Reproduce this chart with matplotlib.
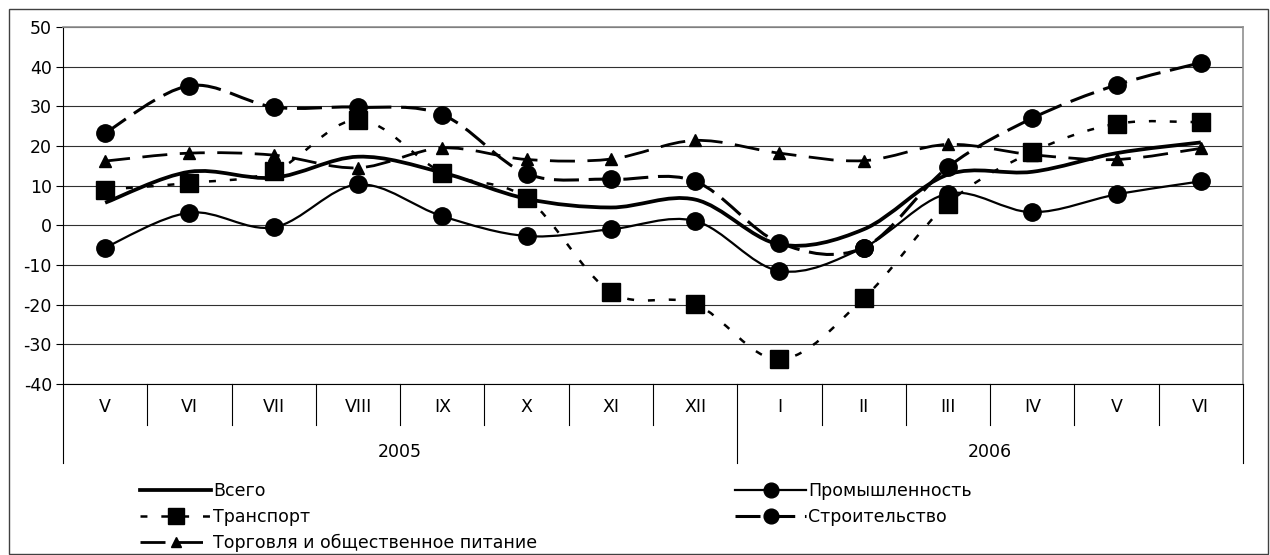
import matplotlib
matplotlib.use("Agg")
import matplotlib.pyplot as plt
from matplotlib.path import Path
from matplotlib.patches import PathPatch, Rectangle
from matplotlib.lines import Line2D
import matplotlib.transforms as mtransforms

plt.rcParams['font.family'] = ['DejaVu Sans']
plt.rcParams['lines.scale_dashes'] = False
plt.rcParams['axes.unicode_minus'] = False

months = ["V", "VI", "VII", "VIII", "IX", "X", "XI", "XII",
          "I", "II", "III", "IV", "V", "VI"]
years = ["2005", "2006"]
year_span = [(0, 7), (8, 13)]

vsego = [5.7, 13.5, 12, 17.3, 13.3, 6.7, 4.5, 6.5, -4.8, -1, 12.8, 13.5, 18.2, 20.9]
prom = [-5.6, 3.2, -0.5, 10.3, 2.3, -2.7, -1, 1.1, -11.5, -5.6, 8, 3.3, 7.8, 11.1]
transport = [9, 10.7, 13.6, 26.6, 13.3, 6.8, -16.8, -19.8, -33.8, -18.4, 5.5, 18.5, 25.6, 26]
stroit = [23.3, 35.2, 29.8, 29.8, 27.9, 13, 11.6, 11.1, -4.4, -5.6, 14.7, 27, 35.4, 41]
torg = [16.2, 18.2, 17.7, 14.5, 19.5, 16.6, 16.7, 21.4, 18.2, 16.3, 20.4, 17.8, 16.6, 19.4]

W, H = 1270, 555
fig = plt.figure(figsize=(W / 100, H / 100), dpi=100)
ax = fig.add_axes([63 / W, (H - 384) / H, 1180 / W, 357 / H])


def smooth_path(xs, ys):
    # Excel-style smoothed line: cubic Bezier through every data point
    n = len(xs)
    verts = [(xs[0], ys[0])]
    codes = [Path.MOVETO]
    for i in range(n - 1):
        a = i - 1 if i > 0 else i
        d = i + 2 if i + 2 < n else i + 1
        c1 = (xs[i] + (xs[i + 1] - xs[a]) / 6, ys[i] + (ys[i + 1] - ys[a]) / 6)
        c2 = (xs[i + 1] - (xs[d] - xs[i]) / 6, ys[i + 1] - (ys[d] - ys[i]) / 6)
        verts += [c1, c2, (xs[i + 1], ys[i + 1])]
        codes += [Path.CURVE4] * 3
    return Path(verts, codes)


x = list(range(len(months)))
series = [
    ("Всего", vsego, dict(lw=2.7, ls="-"), dict(marker=None)),
    ("Промышленность", prom, dict(lw=1.6, ls="-"), dict(marker="o", ms=12.5)),
    ("Транспорт", transport, dict(lw=1.8, ls=(0, (5, 10))), dict(marker="s", ms=13)),
    ("Строительство", stroit, dict(lw=2.2, ls=(0, (18, 7))), dict(marker="o", ms=12.5)),
    ("Торговля и общественное питание", torg, dict(lw=2.0, ls=(0, (18, 9))), dict(marker="^", ms=8)),
]

handles = {}
for name, vals, lst, mk in series:
    patch = PathPatch(smooth_path(x, vals), fill=False, edgecolor="black",
                      linewidth=lst["lw"], linestyle=lst["ls"], capstyle="butt",
                      zorder=3)
    ax.add_patch(patch)
    if mk["marker"]:
        ax.plot(x, vals, linestyle="none", marker=mk["marker"], ms=mk["ms"],
                color="black", zorder=4)
    handles[name] = Line2D([], [], color="black", lw=lst["lw"], ls=lst["ls"],
                           marker=mk["marker"], ms=mk["ms"] if mk["marker"] else 0)

ax.set_xlim(-0.5, len(months) - 0.5)
ax.set_ylim(-40, 50)
ax.set_yticks(range(-40, 51, 10))
ax.yaxis.grid(True, color="#303030", lw=0.8)
ax.set_axisbelow(True)
ax.tick_params(axis="y", labelsize=12.5, length=5, width=0.8, direction="out", pad=3)
ax.set_xticks(x)
ax.set_xticklabels(months, fontsize=12.5)
ax.tick_params(axis="x", length=0, pad=10)
for s in ["top", "right"]:
    ax.spines[s].set_color("#909090")
    ax.spines[s].set_linewidth(1.2)
ax.spines["left"].set_color("black")
ax.spines["bottom"].set_color("black")

# category separators under the axis
tr = mtransforms.blended_transform_factory(ax.transData, ax.transAxes)
month_bottom = (384 - 425) / 357
year_bottom = (384 - 463) / 357
for b in range(1, len(months)):
    if b == year_span[1][0]:
        continue
    ax.plot([b - 0.5, b - 0.5], [0, month_bottom], color="black", lw=0.8,
            transform=tr, clip_on=False)
for b in [-0.5, year_span[1][0] - 0.5, len(months) - 0.5]:
    ax.plot([b, b], [0, year_bottom], color="black", lw=0.8,
            transform=tr, clip_on=False)
for label, (a, b) in zip(years, year_span):
    ax.text((a + b) / 2, (384 - 452) / 357, label, transform=tr,
            ha="center", va="center", fontsize=12.5)

# legend, two columns placed by hand
left_names = ["Всего", "Транспорт", "Торговля и общественное питание"]
right_names = ["Промышленность", "Строительство"]
kw = dict(frameon=False, fontsize=12.5, handlelength=4.1, handletextpad=0.1,
          labelspacing=0.45, borderpad=0, borderaxespad=0, numpoints=1,
          markerscale=0.85, loc="upper left")
leg1 = fig.legend([handles[n] for n in left_names], left_names,
                  bbox_to_anchor=(140 / W, (H - 482) / H), **kw)
leg2 = fig.legend([handles[n] for n in right_names], right_names,
                  bbox_to_anchor=(735 / W, (H - 482) / H), **kw)

# outer chart frame
fig.patches.append(Rectangle((9 / W, 1 / H), 1259 / W, 545 / H, fill=False,
                             edgecolor="#404040", lw=1, transform=fig.transFigure))

fig.savefig("out.png", dpi=100)
